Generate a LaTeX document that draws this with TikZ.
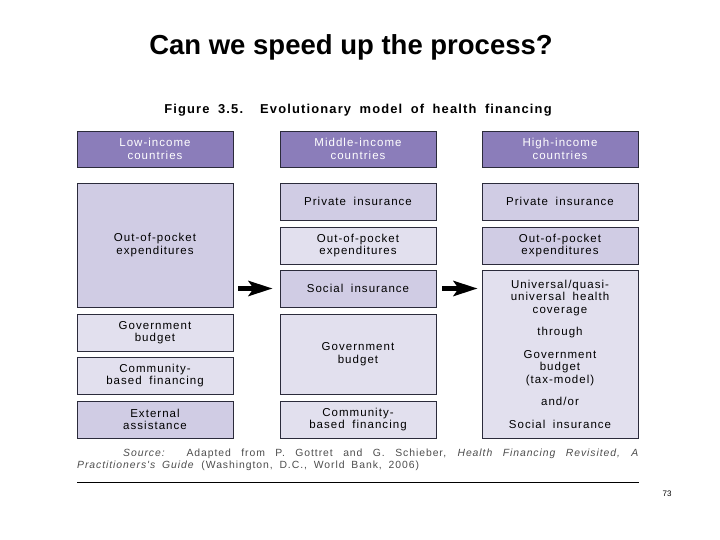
\documentclass[tikz,border=0pt]{standalone}
\usepackage{fontspec}
\setmainfont{Liberation Sans}
\newfontfamily\cellfont{Liberation Sans}[LetterSpace=9,WordSpace=1.8]
\usetikzlibrary{positioning,arrows.meta,calc}

\definecolor{hdrfill}{HTML}{8B7DBA}
\definecolor{celldark}{HTML}{D0CCE4}
\definecolor{celllite}{HTML}{E2E0EE}
\definecolor{cellline}{HTML}{2B2B3B}

\begin{document}
\begin{tikzpicture}[x=1pt,y=-1pt, every node/.style={align=center},
  hdr/.style={draw=cellline, fill=hdrfill, text=white, minimum width=156pt, minimum height=36pt, inner sep=0pt, font=\cellfont\fontsize{11.5}{12.8}\selectfont},
  cell/.style={draw=cellline, line width=0.8pt, minimum width=156pt, inner sep=0pt, font=\cellfont\fontsize{11.5}{12.5}\selectfont},
  fatarrow/.style={line width=5pt, -{Stealth[length=24pt,width=15pt,inset=5pt]}}]
  \useasboundingbox (0,0) rectangle (720,540);
  \node[font=\bfseries\fontsize{27.5}{32}\selectfont] (title) at (351,47) {Can we speed up the process?};
  \node[font=\cellfont\bfseries\fontsize{12.9}{16}\selectfont] (caption) at (358,110) {Figure 3.5.\ \ Evolutionary model of health financing};
  % column headers
  \node[hdr] (low) at (155,149) {Low-income\\countries};
  \node[hdr] (mid) at (358,149) {Middle-income\\countries};
  \node[hdr] (high) at (560,149) {High-income\\countries};
  % low-income column
  \node[cell, fill=celldark, minimum height=124pt] (oop1) at (155,245) {Out-of-pocket\\expenditures};
  \node[cell, fill=celllite, minimum height=37pt] (gov1) at (155,332.5) {Government\\budget};
  \node[cell, fill=celllite, minimum height=37pt] (comm1) at (155,375.5) {Community-\\based financing};
  \node[cell, fill=celldark, minimum height=37pt] (ext1) at (155,419.5) {External\\assistance};
  % middle-income column
  \node[cell, fill=celldark, minimum height=37pt] (priv2) at (358,201.5) {Private insurance};
  \node[cell, fill=celllite, minimum height=37pt] (oop2) at (358,245.5) {Out-of-pocket\\expenditures};
  \node[cell, fill=celldark, minimum height=37pt] (soc2) at (358,288.5) {Social insurance};
  \node[cell, fill=celllite, minimum height=80pt] (gov2) at (358,354) {Government\\budget};
  \node[cell, fill=celllite, minimum height=37pt] (comm2) at (358,419.5) {Community-\\based financing};
  % high-income column
  \node[cell, fill=celldark, minimum height=37pt] (priv3) at (560,201.5) {Private insurance};
  \node[cell, fill=celldark, minimum height=37pt] (oop3) at (560,245.5) {Out-of-pocket\\expenditures};
  \node[cell, fill=celllite, minimum height=168pt] (univ3) at (560,354) {Universal/quasi-\\universal health\\coverage\\[10pt]through\\[10pt]Government\\budget\\(tax-model)\\[10pt]and/or\\[10pt]Social insurance};
  % arrows
  \draw[fatarrow, shorten <=5pt, shorten >=7pt] (oop1.east |- soc2.west) -- (soc2.west);
  \draw[fatarrow, shorten <=6pt, shorten >=4pt] (soc2.east) -- (univ3.west |- soc2.east);
  % source note
  \node[anchor=north west, text width=562pt, align=justify, inner sep=0pt, text=black!70, font=\cellfont\fontsize{10.4}{11.5}\selectfont, name=source] at (77,449) {\hspace*{46pt}\textit{Source:}\ \ Adapted from P. Gottret and G. Schieber, \textit{Health Financing Revisited, A}\linebreak \textit{Practitioners's Guide} (Washington, D.C., World Bank, 2006)};
  \coordinate (ruleL) at (77,482);
  \coordinate (ruleR) at (639,482);
  \draw[line width=1pt] (ruleL) -- (ruleR);
  \node[font=\fontsize{8}{10}\selectfont] (pageno) at (667,494) {73};
\end{tikzpicture}
\end{document}
